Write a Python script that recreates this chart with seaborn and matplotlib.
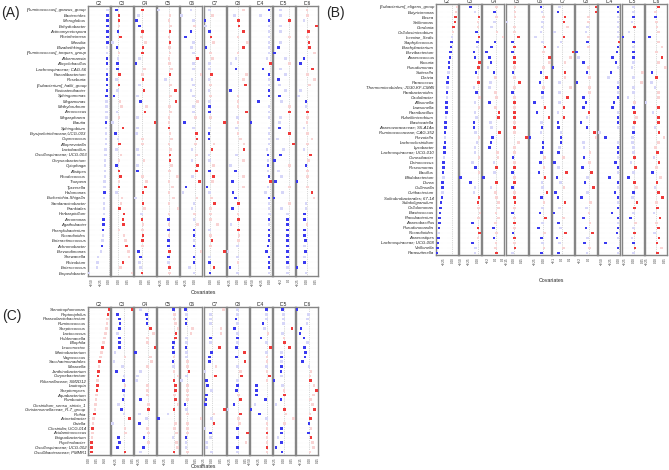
import numpy as np
import pandas as pd
import seaborn as sns
import matplotlib.pyplot as plt
from matplotlib.ticker import MaxNLocator

# Covariate effects on genera, three panels (A, B, C), one facet per covariate

covariates = ["C2", "C3", "C4", "C5", "C6", "C7", "C8", "IC4", "IC5", "IC6"]

# ---------------- panel A ----------------
genera_a = [
    "[Ruminococcus]_gnavus_group", "Bacteroides", "Microglobus", "Enhydrobacter",
    "Actinomycetospora", "Rheinheimera", "Massilia", "Elizabethkingia",
    "[Ruminococcus]_torques_group", "Akkermansia", "Alicyclobacillus",
    "Lachnospiraceae; CAG-56", "Faecalibacterium", "Roseburia",
    "[Eubacterium]_hallii_group", "Fusicatenibacter", "Sphingomonas", "Megamonas",
    "Methylorubrum", "Aerococcus", "Megasphaera", "Blautia", "Sphingobium",
    "Erysipelotrichaceae;UCG-003", "Coprococcus", "Alloprevotella", "Lactobacillus",
    "Oscillospiraceae; UCG-003", "Chryseobacterium", "Cytophaga", "Alistipes",
    "Rhodococcus", "Truepera", "Tyzzerella", "Halomonas", "Escherichia-Shigella",
    "Sandaracinobacter", "Frankiales", "Herbaspirillum", "Aeromonas", "Agathobacter",
    "Phenylobacterium", "Nocardioides", "Enteractinococcus", "Achromobacter",
    "Brevundimonas", "Shewanella", "Rhizobium", "Enterococcus", "Empedobacter",
]
a_c2 = [-4, -4, -4, -4, -4, -4, -4, -5, -5, -5, -5, -6, -6, -6, -6, -6, -7, -7, -7, -7, -7, -8, -8, -8, -8, -9,
        -10, -10, -11, -11, -12, -12, -13, -13, -13, -14, -14, -15, -15, -16, -16, -17, -18, -19, -21, -24, -32, -34, -35, -59]
a_c3 = [-5, 2, 2, 2, -1, 6, -17, -4, 2, -1, -2, -2, 3, -6, 1, -2, -12, 4, 9, -4, 1, -17, 12, -8, -1, 3,
        -5, 7, 1, -5, 1, 6, 1, 1, -5, 10, 7, 3, 15, 13, 14, 1, 15, 19, 22, 28, 29, 13, 5, 37]
a_c4 = [2, -9, -14, -6, 2, 0, 12, 4, 2, -6, -16, 9, 2, 4, -6, 7, -11, -4, 14, 10, -11, 39, -11, -14, 2, 2,
        -11, -9, 7, -12, -11, 2, 14, 11, 4, -18, 4, 8, -1, 1, 4, 2, 4, 2, 2, -9, -4, -6, -4, 1]
a_c5 = [-31, 3, 0, 5, 3, 0, 3, 1, 3, 0, 1, 7, 3, -10, 5, 19, 5, 21, 2, 5, 0, 0, 0, 3, 7, 0,
        5, 3, 3, 7, 2, 25, 0, 10, 0, 13, 0, 27, 0, -1, 0, -1, 0, -1, -1, 1, -1, -1, 1, 1]
a_c6 = [-10, -36, -4, 0, -10, -25, -4, -9, -4, 8, -4, -4, 18, -7, -4, -10, -4, 8, -4, -4, 3, -28, -4, 5, 6, 3,
        -7, 5, -7, 8, 5, -6, 14, -24, -32, 6, -2, -7, 0, -2, 8, -2, -2, -2, -2, 18, -2, -2, -14, -2]
a_c7 = [-2, 6, -16, -14, -2, 1, 8, -12, 0, 6, -2, -2, 3, -4, 0, -4, 0, -2, -2, -2, 0, 38, -2, -4, -4, 10,
        4, -4, -2, 8, -2, 8, 6, -10, -2, 3, 11, 0, 0, 0, 19, -2, 0, 4, 0, 38, -2, -2, 10, -1]
a_c8 = [16, -10, 1, 3, 16, 0, 28, 16, 0, -6, -20, -6, 26, 16, 23, -22, 0, 0, 0, 26, -2, 0, -4, 0, 8, 18,
        18, -4, 16, -22, -7, 16, -16, 16, -14, -7, 1, -16, 0, 1, -20, 2, 3, 2, -2, -30, -2, 0, -24, -2]
a_ic4 = [-4, -29, -4, -4, -4, -4, -4, -4, -4, -9, 1, -21, -4, -4, -4, -4, -4, -34, -4, -4, -4, -57, -4, -4, -4, -4,
         -9, -6, -6, -6, -6, -4, 1, -7, -13, -4, -4, -4, -2, -4, -4, -4, -4, -4, -6, -11, -4, -4, -4, -4]
a_ic5 = [-20, -20, 2, -20, -20, 2, -20, -25, -35, -8, 1, -20, -8, -25, -23, -8, -23, -18, 1, 2, -20, -23, -23, 1, -28, 12,
         -13, -21, -35, 1, -26, -18, -33, 1, -15, -37, 1, -18, -3, -3, -3, -3, -3, -3, -3, -3, -3, -3, -3, -3]
a_ic6 = [0, 2, -8, 28, 4, 2, 6, 8, 22, -8, -18, 16, 2, 22, 7, -18, -24, -3, -3, 2, 2, 0, -8, 2, 14, 2,
         -8, 10, 4, -2, 2, 2, -28, 2, 14, 20, -3, -2, -6, -6, 0, -6, -6, -4, -6, -4, -6, -6, -28, -3]
# 1 = significant (solid colour), 0 = not significant (pale)
a_sig = [
    "01111110011011111000010000" + "000000001000011100100000",
    "11101101001110101000001101" + "000111010001111000100100",
    "10111001101001010101010000" + "000010011010010011011001",
    "00001010000010010100001000" + "011000000000010101111010",
    "00001100010000000000010110" + "000110110000000110101100",
    "00101101000010000011010110" + "100011010010000001010111",
    "00111001000100110001000000" + "100010101111010100000010",
    "10100000001110011100010000" + "010101100100010111111110",
    "00100001100001001001001101" + "011000100100011111111100",
    "00011011011100000101000000" + "010100101000110111010110",
]

# ---------------- panel B ----------------
genera_b = [
    "[Eubacterium]_eligens_group", "Butyricimonas", "Bosea", "Sellimonas", "Gordonia",
    "Cellulosimicrobium", "Incertae_Sedis", "Staphylococcus", "Brachybacterium",
    "Brevibacterium", "Anaerococcus", "Kocuria", "Pseudomonas", "Sutterella", "Dietzia",
    "Paracoccus", "Thermomicrobiales; JG30-KF-CM45", "Parabacteroides", "Caulobacter",
    "Allisonella", "Lawsonella", "Paenibacillus", "Rubellimicrobium", "Blastocatella",
    "Anaerovoracaceae; S5-A14a", "Ruminococcaceae; CAG-352", "Prevotella",
    "Lachnoclostridium", "Lysobacter", "Lachnospiraceae; UCG-010", "Conexibacter",
    "Deinococcus", "Roseomonas", "Bacillus", "Bifidobacterium", "Dorea", "Collinsella",
    "Cutibacterium", "Solirubrobacterales; 67-14", "Subdoligranulum", "Cellulomonas",
    "Blastococcus", "Flavobacterium", "Anaerobacillus", "Pseudonocardia", "Nocardioides",
    "Anaerostipes", "Lachnospiraceae; UCG-008", "Veillonella", "Parasutterella",
]
b_c2 = [12, 10, 8, 7, 3, 1, -1, -3, -4, -5, -7, -9, -10, -11, -12, -13, -14, -15, -15, -16, -17, -17, -18, -19, -19,
        -20, -21, -21, -22, -22, -23, -24, -25, -26, -25, -27, -27, -28, -29, -31, -33, -34, -35, -35, -37, -38, -39, -40, -41, -42]
b_c3 = [-20, -8, 4, 1, 1, -3, 4, -1, -2, -10, -7, 6, 2, -5, 1, 3, -11, -3, 5, -8, 4, -8, -3, -10, -11, -6, 4, -2, -8,
        -7, 4, -14, -6, 4, -50, -20, -7, -10, 4, 1, 3, 7, 2, -14, 1, 5, 1, -15, -6, -8]
b_c4 = [2, -3, 3, -2, -10, 4, 20, -1, -10, -23, -15, -12, -20, -4, 0, -13, -16, 0, 2, -15, 0, 9, 8, -13, -10, 10, -8, -12, -15,
        5, 6, -4, 3, -2, -31, 3, -12, 0, 2, 7, 7, 1, 7, 0, -6, 2, -4, 1, 0, 3]
b_c5 = [2, 2, 2, -15, 1, 1, 9, -3, 1, -3, 1, 1, 1, -2, 1, 11, 1, -3, 1, 1, 1, 1, 1, 1, 1, 1, 25, 9, 1,
        1, -2, 1, 1, -3, 1, 1, -3, 1, 1, 2, 1, -3, 1, 1, 1, -2, 1, 1, 2, -3]
b_c6 = [-7, -4, 0, -2, -4, -7, -22, -2, 4, 0, 17, 16, 0, -7, 8, -9, 0, -2, -2, -25, 4, -18, 15, -6, -4, -7, -37, -1, -1,
        -5, 3, -8, 2, -12, 4, -4, -2, 10, -6, 2, -3, -9, 5, -2, -14, 3, -6, -3, 1, -5]
b_c7 = [-3, -5, 4, 3, 7, -9, 3, -1, -5, 14, 11, 4, -11, 4, 4, -3, 11, -3, 7, -3, 3, -5, 3, -5, -4, -1, -1, -1, -3,
        -4, 2, -9, -4, 6, -6, -2, 3, -8, -5, 4, -3, -10, 2, -4, -2, 5, -6, -3, 2, -4]
b_c8 = [16, 16, 0, 0, -2, -6, 0, -2, 0, -27, -22, -12, 0, -4, 2, -26, 2, 2, -12, -6, -12, 1, -4, -17, -4, 13, 16, -12, -10,
        3, -10, 2, -14, 6, -3, -8, 10, -2, -16, 4, -5, 1, -11, 3, -6, 8, -2, -9, 2, -4]
b_ic4 = [-3, -3, -3, -3, -3, -3, -3, 1, -3, -5, -18, -9, -3, -23, -31, -3, -3, -3, -3, -15, -19, -3, -3, -3, -3, -57, -40, -3, -3,
         -3, -3, -10, -3, -3, -28, -3, -3, -12, -3, -3, -3, -20, -3, -3, -3, -6, -3, -40, -3, -3]
b_ic5 = [-2, -2, -2, -6, 1, -14, -31, -2, -2, -2, -2, -2, -6, 23, -2, 21, -2, -2, -17, 1, -2, 1, 6, 1, -2, -2, -4, -4, -2,
         -2, 1, -8, 4, -2, -15, 1, 6, -2, -4, 8, 1, -2, -10, 4, -2, 1, -6, -2, 3, -2]
b_ic6 = [8, 0, -1, 3, 4, 8, -17, 8, 18, 3, 18, 8, 28, -10, 3, -12, -2, 8, 8, -27, 8, -7, 8, 8, -2, 10, 23, 8, 0,
         6, -4, 10, 2, -8, 14, 4, -2, 8, 20, 3, 6, -5, 12, 2, 8, -3, 10, 4, 16, 6]
b_sig = [
    "00111001111110110101110111011101110110111111101111",
    "10100111011111010100000110000" + "000101100110001110100",
    "01000001111101000001011001111" + "000101100000000101001",
    "00000011111101010101011010100" + "010110110110101011010",
    "10000000101001110101111010111" + "101011001100110101001",
    "01110010010011000010101110110" + "101011001110101011001",
    "11000001010101010011110111000" + "010110110100010110100",
    "11000001111101001011101100101" + "101101101101110110110",
    "00101011011000000000110101000" + "010101101011010010110",
    "10100010001001100000101101000" + "101010101101010101101",
]

# ---------------- panel C ----------------
genera_c = [
    "Stenotrophomonas", "Peptoniphilus", "Phascolarctobacterium", "Ruminococcus",
    "Streptococcus", "Lactococcus", "Holdemanella", "Bilophila", "Leuconostoc",
    "Marinobacterium", "Vagococcus", "Saccharimonadales", "Moraxella",
    "Janthinobacterium", "Corynebacterium", "Rikenellaceae; SM2D12", "Lautropia",
    "Streptomyces", "Aquabacterium", "Romboutsia", "Clostridium_sensu_stricto_1",
    "Christensenellaceae_R-7_group", "Rothia", "Acinetobacter", "Gaiella",
    "Clostridia; UCG-014", "Acidaminococcus", "Exiguobacterium", "Psychrobacter",
    "Oscillospiraceae; UCG-002", "Oscillibacteraceae; PMMR1",
]
c_c2 = [61, 58, 56, 55, 53, 50, 47, 44, 41, 39, 36, 32, 31, 29, 28, 26, 25, 24, 22, 21, 20, 18, 16, 14, 12, 11, 10, 9, 8, 8, 8]
c_c3 = [22, -21, -14, -13, -15, -21, -14, -15, -14, -28, 1, -31, -6, -23, -1, -2, 1, -2, -1, -4, -18, -9, -1, 15, -36, 1, 3, -18, -15, -21, 2]
c_c4 = [-20, -3, -2, -2, 8, 18, 0, 0, 22, -36, 8, 12, 0, -20, -30, -32, 0, 0, 0, -20, 3, 2, -24, -4, -23, 0, 2, -10, 2, -12, -20]
c_c5 = [-1, 3, 3, 5, 13, 7, 5, -1, -2, -1, 1, -2, -1, 1, 13, 1, 5, 5, 3, 5, 13, 1, -17, -45, 5, 3, 8, -2, 8, 11, 1]
c_c6 = [-5, -3, -4, -4, 15, 10, -2, -2, -4, -2, -2, 1, 1, 5, -2, -17, 1, 1, 1, 1, -7, -2, 1, 40, 1, 1, 1, -4, -4, -4, 1]
c_c7 = [33, -4, -4, -4, 26, 26, -4, -4, 21, -2, -7, -8, 12, -22, 10, -17, -14, -2, -16, -18, -19, 36, 6, -2, 6, -22, -4, -4, -16, -16, -2]
c_c8 = [-3, -3, -7, -3, -11, -3, -3, -3, -6, 19, -6, 21, -3, 7, 11, -3, -3, -5, 1, 7, -13, -33, 7, 1, 4, -3, 29, -3, 24, -3, -3]
c_ic4 = [-1, -1, -1, -11, -6, 4, -17, -1, 11, -1, 1, 1, -1, 1, 8, 1, -31, -31, -31, -4, -35, -47, -22, -1, 1, 1, 1, 1, 1, 1, 1]
c_ic5 = [-4, -1, -1, -1, 24, -3, 1, 2, 17, -6, -6, -6, -7, -8, -6, -28, -3, 1, 2, -8, -22, 2, 7, 29, 2, -6, -6, -16, -6, -22, -5]
c_ic6 = [-22, -2, -3, -4, -15, -17, -10, -3, -9, -7, -8, -12, -1, 3, 1, 2, 8, 13, 7, 2, 6, 9, 1, 2, -1, 3, -2, 3, 5, 7, 1]
c_sig = [
    "1100000010010110110000100100111",
    "1111101110000101010101010001111",
    "0111100011000000000101001001010",
    "1000011111010001110101010000001",
    "1011000010000100000010000001000",
    "0000001011110011101111001010000",
    "0010101011110010110110100111010",
    "1001001010000010111101100010010",
    "1000100110101101001101000110111",
    "1000111011110001010001011011000",
]

palette = {"up_sig": "#f03a3a", "up_ns": "#f9d3d3", "down_sig": "#3a3af0", "down_ns": "#d6d6f8"}
kinds = ["up_sig", "up_ns", "down_sig", "down_ns"]

W, H = 669, 470
sns.set_style("white")
plt.rcParams["font.family"] = ["Liberation Sans", "DejaVu Sans"]
fig = plt.figure(figsize=(W / 100, H / 100), dpi=100)


def long_table(genera, columns, sigs):
    recs = []
    for cov, vals, sig in zip(covariates, columns, sigs):
        for i, (v, s) in enumerate(zip(vals, sig)):
            d = "up" if v >= 0 else "down"
            recs.append({"covariate": cov, "genus": genera[i], "row": i,
                         "coef": v / 100, "kind": d + ("_sig" if s == "1" else "_ns")})
    return pd.DataFrame(recs)


def draw_panel(df, genera, left, step, top, bottom, y_first, y_last, tag, tag_xy, xlab_y):
    n = len(genera)
    d = (y_last - y_first) / (n - 1)
    y_lo = -(y_first - top) / d
    y_hi = (n - 1) + (bottom - y_last) / d
    for j, cov in enumerate(covariates):
        x0 = left + j * step
        ax = fig.add_axes([x0 / W, 1 - bottom / H, 22 / W, (bottom - top) / H])
        sub = df[df["covariate"] == cov]
        ax.axvline(0, color="#b0b0b0", ls=":", lw=0.5, zorder=0)
        sns.scatterplot(data=sub, x="coef", y="row", hue="kind", hue_order=kinds,
                        palette=palette, marker="s", s=3.5, linewidth=0,
                        legend=False, ax=ax, zorder=3)
        lo = min(sub["coef"].min(), 0)
        hi = max(sub["coef"].max(), 0)
        pad = 0.06 * (hi - lo)
        ax.set_xlim(lo - pad, hi + pad)
        ax.set_ylim(y_hi, y_lo)
        ax.set_yticks(range(n))
        ax.grid(axis="y", color="#f2f2f2", lw=0.3, ls=":")
        ax.xaxis.set_major_locator(MaxNLocator(nbins=3))
        ax.tick_params(axis="x", labelsize=2.2, length=1, width=0.3, pad=0.5,
                       labelrotation=90, colors="#333333")
        ax.tick_params(axis="y", length=0.8, width=0.3, pad=0.5)
        if j == 0:
            ax.set_yticklabels(genera, fontsize=3.1, style="italic", color="#222222")
        else:
            ax.set_yticklabels([])
            ax.tick_params(axis="y", length=0)
        ax.set_xlabel("")
        ax.set_ylabel("")
        ax.set_title(cov, fontsize=3.4, pad=0.8)
        for sp in ax.spines.values():
            sp.set_color("#858585")
            sp.set_linewidth(1.0)
    cx = (left + left + 9 * step + 22) / 2
    fig.text(cx / W, 1 - xlab_y / H, "Covariates", fontsize=3.8, ha="center", va="center")
    fig.text(tag_xy[0] / W, 1 - tag_xy[1] / H, tag, fontsize=10, ha="left", va="baseline")


df_a = long_table(genera_a, [a_c2, a_c3, a_c4, a_c5, a_c6, a_c7, a_c8, a_ic4, a_ic5, a_ic6], a_sig)
df_b = long_table(genera_b, [b_c2, b_c3, b_c4, b_c5, b_c6, b_c7, b_c8, b_ic4, b_ic5, b_ic6], b_sig)
df_c = long_table(genera_c, [c_c2, c_c3, c_c4, c_c5, c_c6, c_c7, c_c8, c_ic4, c_ic5, c_ic6], c_sig)

draw_panel(df_a, genera_a, 88, 23.1, 6, 276, 10, 273, "(A)", (1, 17), 292)
draw_panel(df_b, genera_b, 436, 23.2, 4, 255, 7, 253, "(B)", (326, 17), 281)
draw_panel(df_c, genera_c, 88, 23.1, 307, 455, 309.5, 452, "(C)", (2, 320), 467)

fig.savefig("out.png", dpi=100)
